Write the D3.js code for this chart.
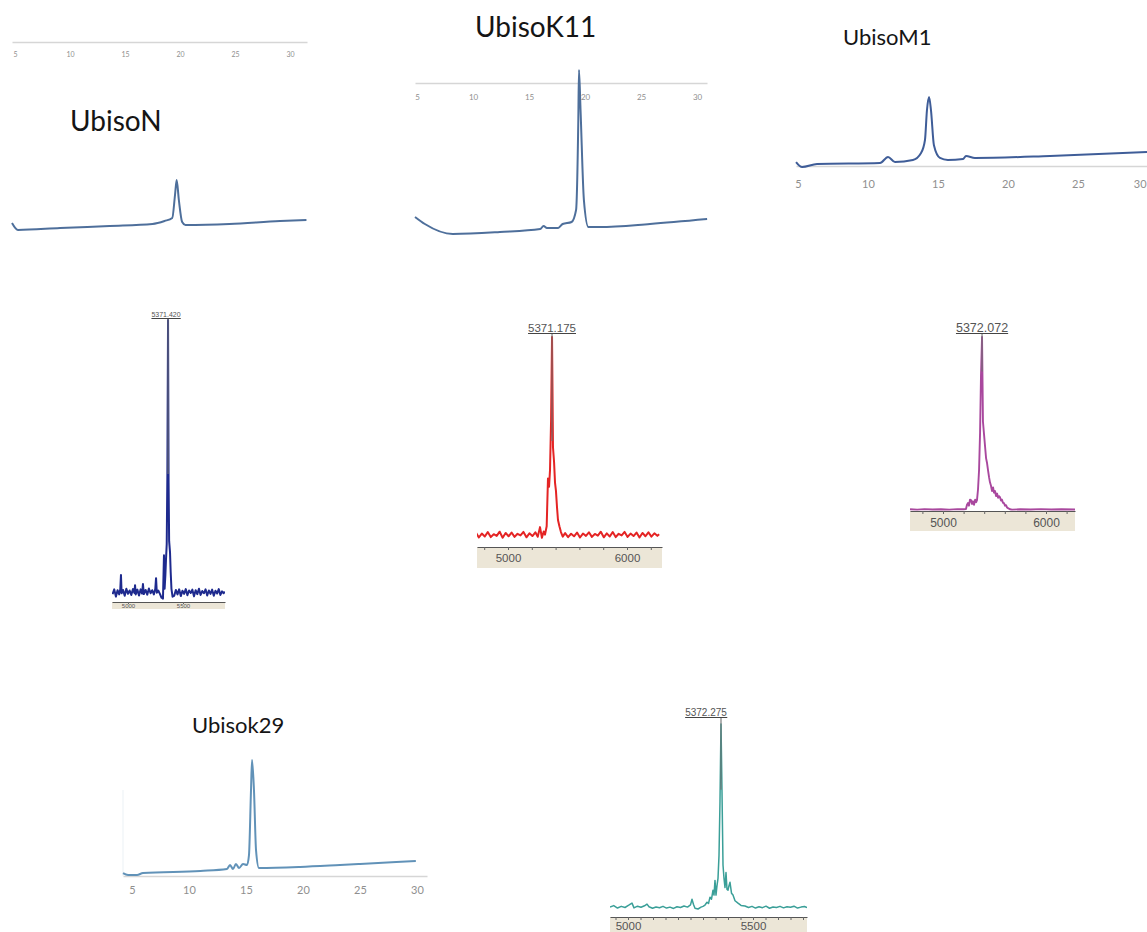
<!DOCTYPE html>
<html>
<head>
<meta charset="utf-8">
<script src="https://cdn.jsdelivr.net/npm/d3@7"></script>
<style>
  body { margin: 0; background: #fff; }
  svg { display: block; }
</style>
</head>
<body>
<svg id="fig" width="1147" height="932"></svg>
<script>
// ---- HPLC traces (retention time, min / relative absorbance) ----
const hplcTicks = [5, 10, 15, 20, 25, 30];

const ubisoNTime   = [4.73, 5.27, 9.1, 13.6, 17.5, 18.6, 19.3, 19.55, 19.7, 19.9, 20.2, 20.5, 24.5, 29.1, 31.5];
const ubisoNSignal = [14, 0, 4, 8, 12, 18, 24, 70, 100, 60, 16, 10, 12, 18, 20];

const ubisoK11Time   = [4.82, 5.7, 8.2, 12.4, 16.0, 16.3, 16.6, 17.6, 18.0, 18.8, 19.2, 19.4, 19.46, 19.6, 19.9, 20.3, 21.3, 25.8, 30.9];
const ubisoK11Signal = [10.4, 6.1, 0, 1.2, 3, 4.9, 3.7, 3.7, 6.1, 7.3, 14.6, 69.5, 100, 75.6, 20.7, 4.3, 4.3, 6.1, 9.1];

const ubisoM1Time   = [4.86, 5.29, 6.36, 10.86, 11.43, 11.93, 13.21, 13.79, 14.07, 14.21, 14.36, 14.5, 14.71, 15.14, 15.7, 16.79, 17.0, 17.64, 23, 29.93];
const ubisoM1Signal = [7.1, 0, 4.3, 5.7, 14.3, 7.1, 10, 20, 38.6, 81, 100, 81, 31, 12.9, 10, 11.4, 15.7, 12.9, 15.7, 21.4];

const ubisoK29Time   = [4.21, 4.65, 5.44, 5.96, 11, 13.33, 13.6, 13.86, 14.12, 14.39, 14.74, 15.09, 15.26, 15.44, 15.53, 15.7, 15.88, 16.14, 19.74, 23.25, 25, 29.9];
const ubisoK29Signal = [1.7, 0, 0, 1.7, 3.5, 5.2, 8.7, 5.2, 9.6, 6.1, 9.6, 8.7, 17, 73.9, 100, 73.9, 21.7, 6.1, 7, 8.7, 9.6, 12.2];

// ---- mass spectra ([m/z, relative intensity]) ----
const msN = [[4860,2.1],[4875,3.8],[4890,1.2],[4905,3.5],[4920,2.0],[4930,3.9],[4936,8.9],[4942,2.4],[4955,3.6],[4970,1.5],[4985,4.0],[5000,2.2],[5015,3.4],[5030,1.8],[5045,3.9],[5058,2.5],[5064,5.3],[5070,2.0],[5085,3.7],[5100,1.6],[5115,3.8],[5128,2.3],[5136,5.7],[5144,2.1],[5160,3.6],[5175,1.9],[5190,4.1],[5205,2.4],[5220,3.5],[5235,2.0],[5248,3.9],[5255,7.8],[5262,2.6],[5275,3.4],[5290,2.2],[5305,0.8],[5318,0.5],[5327,16],[5333,4],[5340,9],[5345,14],[5352,20],[5358,45],[5364,100],[5369,42],[5374,21],[5382,17],[5388,10],[5395,4],[5405,1.2],[5420,1.5],[5435,3.6],[5450,2.0],[5465,3.8],[5480,1.4],[5495,3.3],[5510,2.2],[5525,3.9],[5540,1.7],[5555,3.4],[5570,2.5],[5585,3.7],[5600,1.3],[5615,3.5],[5630,2.1],[5645,4.0],[5660,1.8],[5675,3.2],[5690,2.4],[5705,3.8],[5720,1.6],[5735,3.4],[5750,2.2],[5765,3.7],[5780,1.5],[5795,3.3],[5810,2.3],[5825,3.9],[5840,1.8],[5855,3.1],[5870,2.4],[5880,3.0]];

const msK11 = [[4705,4.8],[4730,6.0],[4755,3.6],[4780,5.5],[4805,4.1],[4830,6.2],[4855,3.8],[4880,5.2],[4905,4.4],[4930,6.4],[4955,3.5],[4980,5.8],[5005,4.2],[5030,6.0],[5055,3.9],[5080,5.4],[5105,4.6],[5130,6.3],[5155,3.7],[5180,5.6],[5205,4.3],[5230,6.1],[5250,4.0],[5269,8.6],[5285,3.5],[5300,6.5],[5311,5.0],[5325,9],[5336,32],[5345,28],[5353,36],[5362,60],[5370,100],[5378,47],[5387,40],[5395,30],[5403,26],[5412,18],[5420,12],[5432,9],[5445,6.2],[5460,4.0],[5480,5.7],[5505,3.8],[5530,5.4],[5555,4.2],[5580,6.0],[5605,3.6],[5630,5.5],[5655,4.4],[5680,6.1],[5705,3.9],[5730,5.3],[5755,4.5],[5780,6.4],[5805,3.7],[5830,5.6],[5855,4.1],[5880,6.2],[5905,3.8],[5930,5.4],[5955,4.6],[5980,6.3],[6005,3.9],[6030,5.5],[6055,4.3],[6080,6.0],[6105,3.6],[6130,5.8],[6155,4.2],[6180,6.1],[6205,4.0],[6230,5.6],[6255,4.4],[6270,5.2]];

const msM1 = [[4680,0.4],[4750,0.2],[4820,0.5],[4900,0.3],[4980,0.4],[5060,0.2],[5140,0.5],[5200,0.4],[5223,0.6],[5233,3],[5243,4],[5252,2.5],[5262,6],[5272,5.7],[5282,3.5],[5291,5],[5301,3],[5312,6],[5322,4.5],[5330,5.7],[5340,12],[5350,23],[5360,45],[5369,78],[5379,100],[5388,51],[5398,44],[5408,37],[5418,30],[5428,27],[5437,23],[5447,19],[5456,16],[5466,14],[5476,11],[5486,13],[5495,10],[5505,11],[5515,8],[5525,9.5],[5535,7],[5544,8],[5553,7.4],[5563,5.5],[5572,6],[5582,4.2],[5592,4],[5602,2.5],[5612,2.8],[5621,1.5],[5631,1.1],[5650,0.4],[5670,0.2],[5750,0.4],[5850,0.3],[5950,0.5],[6050,0.3],[6150,0.4],[6282,0.3]];

const msK29 = [[4928,2.6],[4943,3.4],[4958,2.1],[4973,3.0],[4988,2.4],[5003,3.6],[5016,4.7],[5024,2.2],[5038,3.1],[5052,2.5],[5066,3.3],[5076,4.2],[5084,2.8],[5098,2.0],[5112,2.7],[5126,2.3],[5140,3.0],[5154,2.1],[5168,2.6],[5182,1.9],[5196,2.8],[5210,2.4],[5224,3.2],[5238,2.6],[5250,3.8],[5256,6.8],[5262,4.0],[5268,2.0],[5280,1.6],[5292,2.6],[5300,3.0],[5308,3.7],[5316,5.2],[5322,4.5],[5328,7.9],[5334,6.8],[5340,11.6],[5344,9],[5348,16.8],[5352,9],[5356,14],[5360,17.9],[5364,30],[5368,59],[5372,100],[5376,64],[5380,25],[5384,17.9],[5388,13],[5392,21],[5396,12],[5400,11.6],[5404,14],[5408,15.8],[5414,10],[5420,9],[5428,6],[5440,4.7],[5452,3.5],[5468,3.2],[5482,2.4],[5496,3.0],[5510,2.1],[5524,2.8],[5538,2.3],[5552,3.1],[5566,2.0],[5580,2.7],[5594,2.4],[5608,3.0],[5622,2.2],[5636,2.8],[5650,2.5],[5664,3.1],[5678,2.1],[5692,2.6],[5706,2.9],[5716,2.3]];

const msLabels = ['5371.420', '5371.175', '5372.072', '5372.275'];
const msMajorWide = [5000, 6000];
const msMinorWide = [4800, 5000, 5200, 5400, 5600, 5800, 6000, 6200];
const msMajorNarrow = [5000, 5500];
const msMinorNarrow = d3.range(4950, 5750, 50);

const svg = d3.select('#fig');
svg.append('rect').attr('width', 1147).attr('height', 932).attr('fill', '#fff');

// HPLC chromatogram panel
function drawHplc(p) {
  const x = d3.scaleLinear().domain(p.tDomain).range(p.xRange);
  const y = d3.scaleLinear().domain([0, 100]).range([p.yBase, p.yPeak]);
  const g = svg.append('g');

  if (p.leftEdge) {
    g.append('line')
      .attr('x1', p.xRange[0]).attr('x2', p.xRange[0])
      .attr('y1', p.leftEdge).attr('y2', p.axisY)
      .attr('stroke', '#eef3f7').attr('stroke-width', 1.2);
  }

  const ax = g.append('g')
    .attr('transform', `translate(0,${p.axisY})`)
    .call(d3.axisBottom(x).tickValues(hplcTicks).tickSize(0).tickSizeOuter(0).tickPadding(p.tickPad));
  ax.select('.domain').attr('stroke', '#d6d6d6').attr('stroke-width', 1.5);
  ax.selectAll('text')
    .attr('font-family', 'Lato, sans-serif')
    .attr('font-size', p.tickFont)
    .attr('fill', '#8f8f8f');
  // keep a label that would spill past the right edge inside the picture
  ax.selectAll('.tick text')
    .filter(d => x(d) + 6 > 1147)
    .attr('text-anchor', 'end')
    .attr('x', 1146 - x(30));

  g.append('path')
    .datum(d3.zip(p.time, p.signal))
    .attr('d', d3.line().x(d => x(d[0])).y(d => y(d[1])).curve(d3.curveMonotoneX))
    .attr('fill', 'none')
    .attr('stroke', p.color)
    .attr('stroke-width', 2)
    .attr('stroke-linejoin', 'round');

  g.append('text')
    .attr('x', p.titleX).attr('y', p.titleY)
    .attr('font-family', 'Lato, sans-serif')
    .attr('font-size', p.titleSize)
    .attr('fill', '#151515')
    .text(p.title);
}

// mass spectrum panel
let clipId = 0;
function drawMs(p) {
  const x = d3.scaleLinear().domain(p.refMz).range(p.refPx);
  x.domain([x.invert(p.xRange[0]), x.invert(p.xRange[1])]).range(p.xRange);
  const y = d3.scaleLinear().domain([0, 100]).range([p.yZero, p.yTop]);
  const g = svg.append('g');

  g.append('rect')
    .attr('x', p.xRange[0]).attr('y', p.axisY)
    .attr('width', p.xRange[1] - p.xRange[0]).attr('height', p.bandBottom - p.axisY)
    .attr('fill', '#ece6d7');

  const id = 'clip' + (clipId++);
  g.append('clipPath').attr('id', id).append('rect')
    .attr('x', p.xRange[0]).attr('y', 0)
    .attr('width', p.xRange[1] - p.xRange[0]).attr('height', p.axisY);

  g.append('path')
    .datum(p.data)
    .attr('clip-path', `url(#${id})`)
    .attr('d', d3.line().x(d => x(d[0])).y(d => y(d[1])))
    .attr('fill', 'none')
    .attr('stroke', p.color)
    .attr('stroke-width', p.lineWidth)
    .attr('stroke-linejoin', 'round');

  // peak annotation
  const peak = p.data.reduce((a, b) => (b[1] > a[1] ? b : a));
  const px = x(peak[0]);
  g.append('line')
    .attr('x1', px).attr('x2', px)
    .attr('y1', p.labelY + 2).attr('y2', y(p.annotDown))
    .attr('stroke', '#707070').attr('stroke-width', 1.1);
  const lbl = g.append('text')
    .attr('x', px + p.labelShift).attr('y', p.labelY)
    .attr('text-anchor', 'middle')
    .attr('font-family', '"Liberation Sans", Arial, sans-serif')
    .attr('font-size', p.labelFont)
    .attr('fill', '#555')
    .text(p.label);
  const bb = lbl.node().getBBox();
  g.append('line')
    .attr('x1', bb.x).attr('x2', bb.x + bb.width)
    .attr('y1', p.labelY + 1.5).attr('y2', p.labelY + 1.5)
    .attr('stroke', '#444').attr('stroke-width', 1);

  const ax = g.append('g')
    .attr('transform', `translate(0,${p.axisY})`)
    .call(d3.axisBottom(x).tickValues(p.minor).tickSize(p.tickLen).tickSizeOuter(0)
      .tickPadding(p.tickPad)
      .tickFormat(d => (p.major.includes(d) ? String(d) : '')));
  ax.select('.domain').attr('stroke', '#555').attr('stroke-width', 1.2);
  ax.selectAll('.tick line').attr('stroke', '#666');
  ax.selectAll('text')
    .attr('font-family', '"Liberation Sans", Arial, sans-serif')
    .attr('font-size', p.tickFont)
    .attr('fill', '#555');
}

drawHplc({
  title: 'UbisoN', titleX: 70, titleY: 131, titleSize: 28,
  time: ubisoNTime, signal: ubisoNSignal, color: '#4e6f9b',
  tDomain: [4.73, 31.55], xRange: [12, 307], yBase: 230, yPeak: 180,
  axisY: 42, tickPad: 10.5, tickFont: 7
});
drawHplc({
  title: 'UbisoK11', titleX: 475, titleY: 37, titleSize: 28,
  time: ubisoK11Time, signal: ubisoK11Signal, color: '#4e6f9b',
  tDomain: [4.82, 30.89], xRange: [415, 707], yBase: 234, yPeak: 70,
  axisY: 83, tickPad: 11, tickFont: 8
});
drawHplc({
  title: 'UbisoM1', titleX: 843, titleY: 45, titleSize: 22,
  time: ubisoM1Time, signal: ubisoM1Signal, color: '#3f5d98',
  tDomain: [4.857, 29.93], xRange: [796, 1147], yBase: 167, yPeak: 97,
  axisY: 166, tickPad: 14, tickFont: 11
});
drawHplc({
  title: 'Ubisok29', titleX: 192, titleY: 733, titleSize: 22,
  time: ubisoK29Time, signal: ubisoK29Signal, color: '#6192b8',
  tDomain: [4.21, 30.88], xRange: [123, 427], yBase: 875, yPeak: 760,
  axisY: 876, tickPad: 10, tickFont: 11, leftEdge: 790
});

drawMs({
  data: msN, color: '#1e2a8e', lineWidth: 2, label: msLabels[0],
  refMz: [5000, 5500], refPx: [128, 183], xRange: [112, 225],
  yZero: 600, yTop: 320, axisY: 602, bandBottom: 609,
  labelY: 317, labelFont: 7, labelShift: -2, annotDown: 45,
  major: msMajorNarrow, minor: msMajorNarrow, tickLen: 2, tickPad: 0, tickFont: 6
});
drawMs({
  data: msK11, color: '#e42424', lineWidth: 2, label: msLabels[1],
  refMz: [5000, 6000], refPx: [508, 627], xRange: [477, 662],
  yZero: 545, yTop: 337, axisY: 547, bandBottom: 568,
  labelY: 332, labelFont: 11.5, labelShift: 0, annotDown: 50,
  major: msMajorWide, minor: msMinorWide, tickLen: 3, tickPad: 4, tickFont: 11.5
});
drawMs({
  data: msM1, color: '#a9489e', lineWidth: 1.9, label: msLabels[2],
  refMz: [5000, 6000], refPx: [943, 1046], xRange: [910, 1075],
  yZero: 510, yTop: 337, axisY: 511, bandBottom: 531,
  labelY: 332, labelFont: 12.5, labelShift: 0, annotDown: 80,
  major: msMajorWide, minor: msMinorWide, tickLen: 3, tickPad: 4, tickFont: 12
});
drawMs({
  data: msK29, color: '#3a9f98', lineWidth: 1.5, label: msLabels[3],
  refMz: [5000, 5500], refPx: [628, 753], xRange: [610, 807],
  yZero: 912, yTop: 724, axisY: 917, bandBottom: 932,
  labelY: 716, labelFont: 10, labelShift: -15, annotDown: 65,
  major: msMajorNarrow, minor: msMinorNarrow, tickLen: 3, tickPad: 2, tickFont: 11.5
});
</script>
</body>
</html>
